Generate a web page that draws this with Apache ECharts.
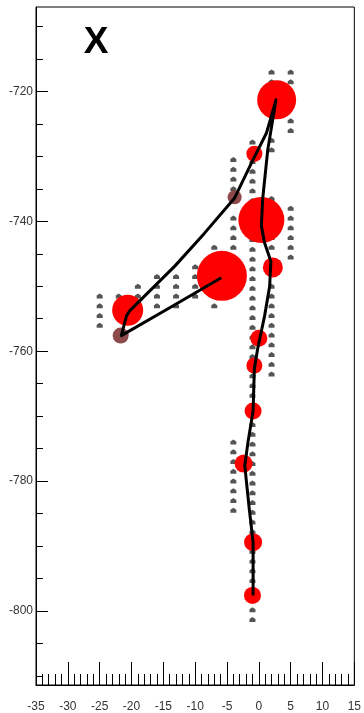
<!DOCTYPE html>
<html>
<head>
<meta charset="utf-8">
<script src="https://cdn.jsdelivr.net/npm/echarts@6/dist/echarts.min.js"></script>
<style>
  html, body { margin: 0; padding: 0; background: #fff; }
  #chart { width: 364px; height: 713px; }
</style>
</head>
<body>
<div id="chart"></div>
<script>
// Panel title
const panelTitle = 'X';

// Axis ranges and tick labels
const xRange = [-35, 15];
const yRange = [-811.4, -707];
const yMajorTicks = [-800, -780, -760, -740, -720];
const yMinorTicks = [-810, -805, -795, -790, -785, -775, -770, -765, -755, -750, -745, -735, -730, -725, -715, -710];

// Grid samples (small grey markers), one list of depths per column
const sampleCols = [-25, -22, -19, -16, -13, -10, -7, -4, -1, 2, 5];
const sampleDepths = [
  [-751.5, -753, -754.5, -756],
  [-751.5],
  [-750, -751.5, -753],
  [-748.5, -750, -751.5, -753],
  [-748.5, -750, -751.5, -753],
  [-747, -748.5, -750, -751.5],
  [-744, -753],
  [-730.5, -732, -733.5, -735, -736.5, -739.5, -741, -742.5, -744,
   -774, -775.5, -777, -778.5, -780, -781.5, -783, -784.5],
  [-727.8, -729.3, -730.8, -732.3, -733.8, -735.3, -736.8, -738.3, -739.8, -741.3,
   -742.8, -744.3, -745.8, -747.3, -748.8, -750.3, -751.8, -753.3, -754.8, -756.3,
   -757.8, -759.3, -760.8, -762.3, -763.8, -765.3, -766.8, -768.3, -769.8, -771.3,
   -772.8, -774.3, -775.8, -777.3, -778.8, -780.3, -781.8, -783.3, -784.8, -786.3,
   -787.8, -789.3, -790.8, -792.3, -793.8, -795.3, -796.8, -798.3, -799.8, -801.3],
  [-717, -718.5, -727.5, -729, -736.5, -738, -739.5, -741, -742.5, -744,
   -750, -751.5, -753, -754.5, -756, -757.5, -759, -760.5, -762, -763.5],
  [-717, -718.5, -724.5, -726, -738, -739.5, -741, -742.5, -744, -745.5]
];

// Events: position and amplitude
const eventX = [2.8, -0.7, -3.8, 0.4, 2.2, -5.8, -20.6, -21.7, 0.0, -0.7, -0.9, -2.4, -0.9, -1.0];
const eventY = [-721.3, -729.6, -736.3, -739.8, -747.1, -748.4, -753.7, -757.6, -758.0, -762.2, -769.2, -777.3, -789.4, -797.6];
const eventAmp = [39, 16, 14, 46, 20, 50, 31, 16, 17, 16, 17, 18, 18, 17];
const weakEvents = [2, 7];

// Fitted trajectory
const pathX = [-5.9, -14.0, -21.6, -20.8, -20.3, -13.2, -8.6, -3.8, -0.9, 1.2, 2.7,
               1.4, 0.6, 0.4, 0.9, 1.9, 1.7, 0.9, -0.2, -0.7, -0.9, -1.7, -2.2, -2.0, -1.5, -0.9, -0.9];
const pathY = [-748.7, -753.3, -757.6, -754.6, -753.8, -746.9, -741.9, -736.4, -730.5, -726.4, -721.3,
               -729.0, -736.6, -740.7, -743.3, -746.2, -750.0, -754.6, -759.7, -762.7, -769.2, -774.0,
               -777.6, -779.6, -784.3, -789.4, -797.6];

const samples = [];
sampleCols.forEach((cx, i) => sampleDepths[i].forEach(d => samples.push([cx, d])));

const strongData = [], weakData = [];
eventX.forEach((x, i) => {
  const p = [x, eventY[i], eventAmp[i]];
  (weakEvents.includes(i) ? weakData : strongData).push(p);
});

const pathData = pathX.map((x, i) => [x, pathY[i]]);

const labelFont = { color: '#333', fontSize: 12, fontFamily: 'Liberation Sans, Arial, sans-serif' };

const chart = echarts.init(document.getElementById('chart'), null, { renderer: 'canvas' });
chart.setOption({
  animation: false,
  backgroundColor: '#fff',
  grid: { left: 36, right: 9, top: 7, bottom: 26, show: true, borderColor: '#000', borderWidth: 1, backgroundColor: 'transparent' },
  graphic: [{
    type: 'text', x: 96, y: 43, z: 10,
    style: { text: panelTitle, font: 'bold 37px "Liberation Sans", Arial, sans-serif', fill: '#000', textAlign: 'center', textVerticalAlign: 'middle' }
  }],
  xAxis: {
    type: 'value', min: xRange[0], max: xRange[1], interval: 5,
    axisLine: { show: true, onZero: false, lineStyle: { color: '#000', width: 1 } },
    axisTick: { show: true, inside: true, length: 23, lineStyle: { color: '#000', width: 1 } },
    minorTick: { show: true, splitNumber: 5, length: 11, lineStyle: { color: '#000', width: 1 } },
    axisLabel: Object.assign({ margin: 16 }, labelFont),
    splitLine: { show: false }
  },
  yAxis: [{
    type: 'value', min: yRange[0], max: yRange[1], position: 'left',
    axisLine: { show: true, onZero: false, lineStyle: { color: '#000', width: 1 } },
    axisTick: { show: true, inside: true, length: 12, customValues: yMajorTicks, lineStyle: { color: '#000', width: 1 } },
    axisLabel: Object.assign({ margin: 3, customValues: yMajorTicks }, labelFont),
    splitLine: { show: false }
  }, {
    type: 'value', min: yRange[0], max: yRange[1], position: 'left', offset: 0,
    axisLine: { show: false, onZero: false },
    axisTick: { show: true, inside: true, length: 7, customValues: yMinorTicks, lineStyle: { color: '#000', width: 1 } },
    axisLabel: { show: false, customValues: yMinorTicks },
    splitLine: { show: false }
  }],
  series: [{
    type: 'scatter', name: 'samples', data: samples, z: 1,
    symbol: 'path://M5,0 L10,4 L10,10 L0,10 L0,4 Z', symbolSize: [6, 5],
    itemStyle: { color: '#555555', opacity: 1 }, silent: true
  }, {
    type: 'scatter', name: 'weak', data: weakData, z: 2,
    symbol: 'circle', symbolSize: v => v[2],
    itemStyle: { color: '#8e4a4a', opacity: 1 }, silent: true
  }, {
    type: 'scatter', name: 'events', data: strongData, z: 2,
    symbol: 'circle', symbolSize: v => v[2],
    itemStyle: { color: '#ff0000', opacity: 1 }, silent: true
  }, {
    type: 'line', name: 'trajectory', data: pathData, z: 3,
    symbol: 'none', smooth: false,
    lineStyle: { color: '#000', width: 3, join: 'round' }, silent: true
  }]
});
</script>
</body>
</html>
